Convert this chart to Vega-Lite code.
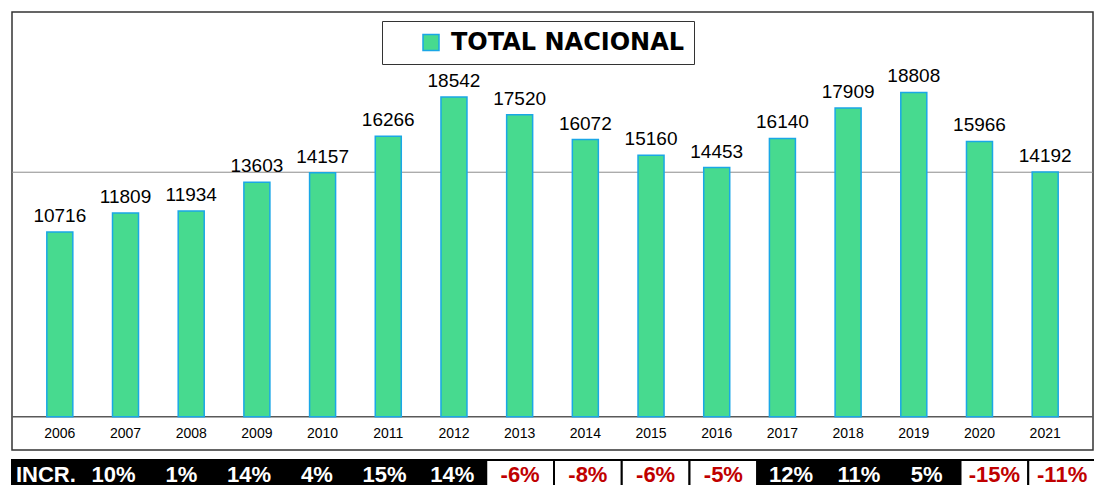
{
  "$schema": "https://vega.github.io/schema/vega-lite/v6.json",
  "background": "white",
  "padding": {"left": 10, "top": 11, "right": 0, "bottom": 0},
  "spacing": 7,
  "vconcat": [
    {
      "width": 1081,
      "height": 438,
      "view": {"stroke": "#333333", "strokeWidth": 1.5},
      "data": {"values": [
        {"year": "2006", "total": 10716, "serie": "TOTAL NACIONAL"},
        {"year": "2007", "total": 11809, "serie": "TOTAL NACIONAL"},
        {"year": "2008", "total": 11934, "serie": "TOTAL NACIONAL"},
        {"year": "2009", "total": 13603, "serie": "TOTAL NACIONAL"},
        {"year": "2010", "total": 14157, "serie": "TOTAL NACIONAL"},
        {"year": "2011", "total": 16266, "serie": "TOTAL NACIONAL"},
        {"year": "2012", "total": 18542, "serie": "TOTAL NACIONAL"},
        {"year": "2013", "total": 17520, "serie": "TOTAL NACIONAL"},
        {"year": "2014", "total": 16072, "serie": "TOTAL NACIONAL"},
        {"year": "2015", "total": 15160, "serie": "TOTAL NACIONAL"},
        {"year": "2016", "total": 14453, "serie": "TOTAL NACIONAL"},
        {"year": "2017", "total": 16140, "serie": "TOTAL NACIONAL"},
        {"year": "2018", "total": 17909, "serie": "TOTAL NACIONAL"},
        {"year": "2019", "total": 18808, "serie": "TOTAL NACIONAL"},
        {"year": "2020", "total": 15966, "serie": "TOTAL NACIONAL"},
        {"year": "2021", "total": 14192, "serie": "TOTAL NACIONAL"}
      ]},
      "layer": [
        {
          "data": {"values": [{"v": 14180}]},
          "mark": {"type": "rule", "color": "#8c8c8c", "strokeWidth": 1},
          "encoding": {
            "y": {"field": "v", "type": "quantitative", "axis": null,
                  "scale": {"domain": [-1932, 23474], "nice": false, "zero": false}}
          }
        },
        {
          "data": {"values": [{"v": 0}]},
          "mark": {"type": "rule", "color": "#595959", "strokeWidth": 1.5},
          "encoding": {
            "y": {"field": "v", "type": "quantitative", "axis": null,
                  "scale": {"domain": [-1932, 23474], "nice": false, "zero": false}}
          }
        },
        {
          "mark": {"type": "bar", "stroke": "#1AA7E6", "strokeWidth": 1.5},
          "encoding": {
            "x": {
              "field": "year", "type": "nominal",
              "scale": {"paddingInner": 0.604, "paddingOuter": 0.53},
              "axis": {
                "title": null, "offset": -33.3,
                "domain": false, "ticks": false, "grid": false,
                "labelAngle": 0, "labelFont": "Liberation Sans", "labelFontSize": 14,
                "labelColor": "black", "labelPadding": 10
              }
            },
            "y": {
              "field": "total", "type": "quantitative", "stack": null, "axis": null,
              "scale": {"domain": [-1932, 23474], "nice": false, "zero": false}
            },
            "color": {
              "field": "serie", "type": "nominal",
              "scale": {"range": ["#47DA8F"]},
              "legend": {
                "orient": "none", "legendX": 370, "legendY": 9,
                "title": null, "symbolType": "square", "symbolSize": 256,
                "symbolStrokeColor": "#1AA7E6", "symbolStrokeWidth": 1.5,
                "labelFont": "DejaVu Sans", "labelFontSize": 24, "labelFontWeight": "bold",
                "labelColor": "black", "labelLimit": 500,
                "padding": 9.5, "symbolOffset": 27.5, "labelOffset": 8,
                "strokeColor": "#333333", "fillColor": "white"
              }
            }
          }
        },
        {
          "mark": {"type": "text", "font": "Liberation Sans", "fontSize": 19, "color": "black", "baseline": "alphabetic", "dy": -10},
          "encoding": {
            "x": {
              "field": "year", "type": "nominal",
              "scale": {"paddingInner": 0.604, "paddingOuter": 0.53},
              "axis": {
                "title": null, "offset": -33.3,
                "domain": false, "ticks": false, "grid": false,
                "labelAngle": 0, "labelFont": "Liberation Sans", "labelFontSize": 14,
                "labelColor": "black", "labelPadding": 10
              }
            },
            "y": {
              "field": "total", "type": "quantitative", "axis": null,
              "scale": {"domain": [-1932, 23474], "nice": false, "zero": false}
            },
            "text": {"field": "total", "type": "nominal"}
          }
        }
      ]
    },
    {
      "width": 1084,
      "height": 26,
      "view": {"stroke": "transparent"},
      "data": {"values": [
        {"col": "INCR.", "txt": "INCR.", "inc": 0},
        {"col": "2007", "txt": "10%", "inc": 10},
        {"col": "2008", "txt": "1%", "inc": 1},
        {"col": "2009", "txt": "14%", "inc": 14},
        {"col": "2010", "txt": "4%", "inc": 4},
        {"col": "2011", "txt": "15%", "inc": 15},
        {"col": "2012", "txt": "14%", "inc": 14},
        {"col": "2013", "txt": "-6%", "inc": -6},
        {"col": "2014", "txt": "-8%", "inc": -8},
        {"col": "2015", "txt": "-6%", "inc": -6},
        {"col": "2016", "txt": "-5%", "inc": -5},
        {"col": "2017", "txt": "12%", "inc": 12},
        {"col": "2018", "txt": "11%", "inc": 11},
        {"col": "2019", "txt": "5%", "inc": 5},
        {"col": "2020", "txt": "-15%", "inc": -15},
        {"col": "2021", "txt": "-11%", "inc": -11}
      ]},
      "layer": [
        {
          "mark": {"type": "bar", "stroke": "black", "strokeWidth": 2},
          "encoding": {
            "x": {
              "field": "col", "type": "ordinal",
              "sort": ["INCR.", "2007", "2008", "2009", "2010", "2011", "2012", "2013", "2014", "2015", "2016", "2017", "2018", "2019", "2020", "2021"],
              "scale": {"paddingInner": 0, "paddingOuter": 0},
              "axis": null
            },
            "fill": {"condition": {"test": "datum.inc < 0", "value": "white"}, "value": "black"}
          }
        },
        {
          "mark": {"type": "text", "font": "Liberation Sans", "fontSize": 22, "fontWeight": "bold", "baseline": "alphabetic", "dy": 9},
          "encoding": {
            "x": {
              "field": "col", "type": "ordinal",
              "sort": ["INCR.", "2007", "2008", "2009", "2010", "2011", "2012", "2013", "2014", "2015", "2016", "2017", "2018", "2019", "2020", "2021"],
              "scale": {"paddingInner": 0, "paddingOuter": 0},
              "axis": null
            },
            "text": {"field": "txt", "type": "nominal"},
            "color": {"condition": {"test": "datum.inc < 0", "value": "#C00000"}, "value": "white"}
          }
        }
      ]
    }
  ]
}
